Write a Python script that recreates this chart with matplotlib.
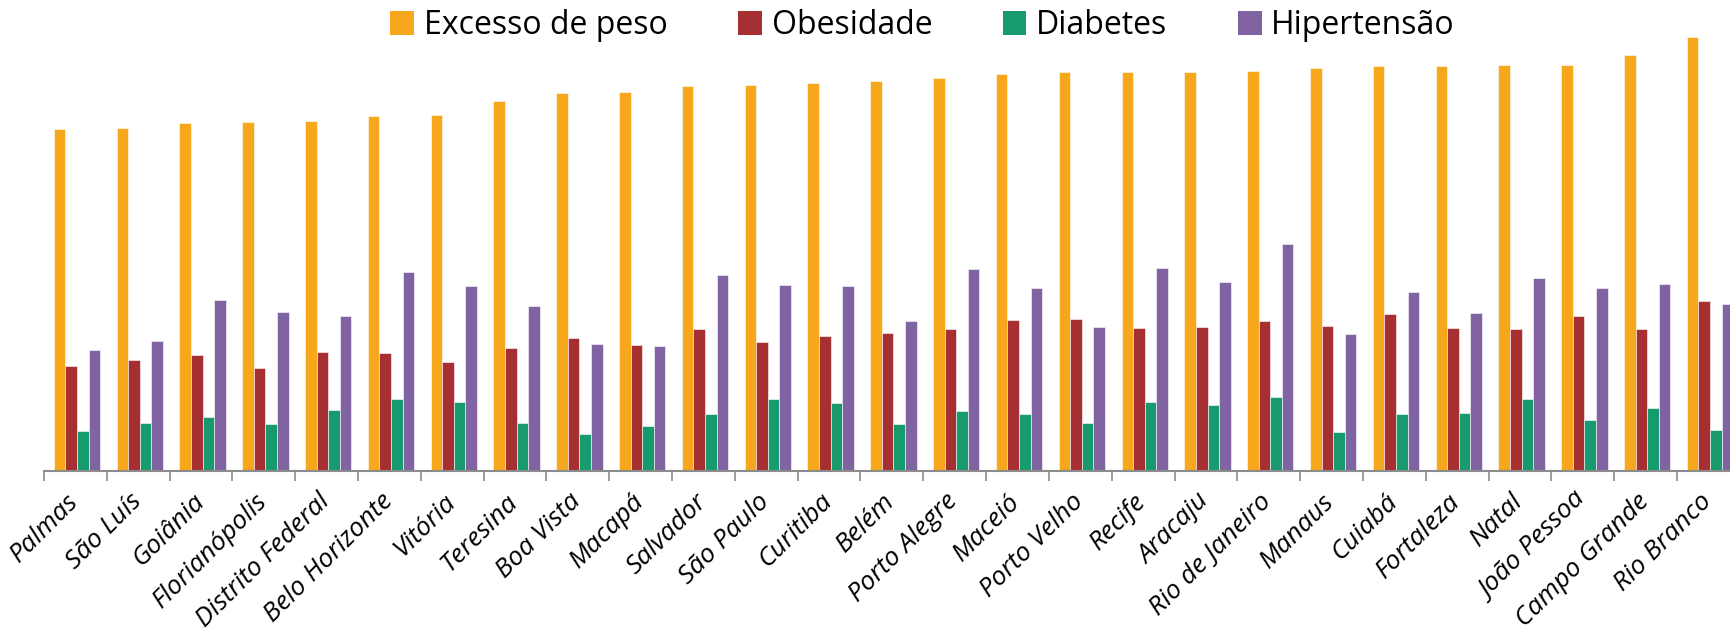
import numpy as np
import matplotlib
matplotlib.use("Agg")
import matplotlib.pyplot as plt
from matplotlib.patches import Patch

plt.rcParams["font.family"] = ["Open Sans", "DejaVu Sans"]

# capitais, ordenadas pelo excesso de peso (%)
cidades = [
    "Palmas", "São Luís", "Goiânia", "Florianópolis", "Distrito Federal",
    "Belo Horizonte", "Vitória", "Teresina", "Boa Vista", "Macapá",
    "Salvador", "São Paulo", "Curitiba", "Belém", "Porto Alegre", "Maceió",
    "Porto Velho", "Recife", "Aracaju", "Rio de Janeiro", "Manaus", "Cuiabá",
    "Fortaleza", "Natal", "João Pessoa", "Campo Grande", "Rio Branco",
]
excesso_peso = [45.9, 46.0, 46.7, 46.8, 47.0, 47.7, 47.8, 49.7, 50.7, 50.8,
                51.7, 51.8, 52.1, 52.3, 52.8, 53.3, 53.5, 53.6, 53.6, 53.7,
                54.1, 54.3, 54.4, 54.5, 54.5, 55.8, 58.3]
obesidade = [14.1, 14.9, 15.6, 13.8, 16.0, 15.9, 14.6, 16.5, 17.9, 16.9,
             19.1, 17.3, 18.1, 18.5, 19.1, 20.2, 20.4, 19.2, 19.3, 20.1,
             19.5, 21.0, 19.2, 19.0, 20.8, 19.1, 22.8]
diabetes = [5.4, 6.4, 7.2, 6.3, 8.2, 9.7, 9.2, 6.5, 5.0, 6.0,
            7.6, 9.6, 9.1, 6.3, 8.1, 7.7, 6.4, 9.2, 8.8, 9.9,
            5.3, 7.6, 7.8, 9.7, 6.8, 8.4, 5.5]
hipertensao = [16.2, 17.4, 22.9, 21.3, 20.8, 26.7, 24.8, 22.2, 17.1, 16.8,
               26.3, 24.9, 24.8, 20.1, 27.1, 24.6, 19.3, 27.2, 25.3, 30.5,
               18.4, 24.0, 21.2, 25.9, 24.6, 25.1, 22.4]

series = [
    ("Excesso de peso", excesso_peso, "#F6A71B"),
    ("Obesidade", obesidade, "#A62F32"),
    ("Diabetes", diabetes, "#169A6E"),
    ("Hipertensão", hipertensao, "#8064A2"),
]

fig = plt.figure(figsize=(17.31, 6.37), dpi=100)
ax = fig.add_axes([44 / 1731, 1 - 471 / 637, 1 - 44 / 1731, 471 / 637])

n = len(cidades)
x = np.arange(n) + 0.5
largura = 0.1845
for i, (nome, vals, cor) in enumerate(series):
    desloc = (i - 1.5) * largura + 0.025
    ax.bar(x + desloc, vals, width=largura, color=cor,
           edgecolor="white", linewidth=0.4)

ax.set_xlim(0, 26.86)
ax.set_ylim(0, 63.2)

# divisões entre categorias e rótulos no centro
ax.set_xticks(np.arange(n))
ax.set_xticklabels([])
ax.tick_params(axis="x", which="major", length=7, width=1.2, color="#8c8c8c")
ax.set_xticks(x - 0.15, minor=True)
ax.set_xticklabels(cidades, minor=True, rotation=45, ha="right",
                   rotation_mode="anchor", fontsize=19, style="italic")
ax.tick_params(axis="x", which="minor", length=0, pad=13)

ax.set_yticks([])
for lado in ["top", "right", "left"]:
    ax.spines[lado].set_visible(False)
ax.spines["bottom"].set_color("#8c8c8c")
ax.spines["bottom"].set_linewidth(1.5)

handles = [Patch(facecolor=c, label=nm) for nm, _, c in series]
fig.legend(handles=handles, loc="center", bbox_to_anchor=(0.533, 0.96),
           ncol=4, frameon=False, fontsize=23, handlelength=0.75,
           handleheight=0.75, handletextpad=0.3, columnspacing=2.2)

fig.savefig("out.png", dpi=100)
